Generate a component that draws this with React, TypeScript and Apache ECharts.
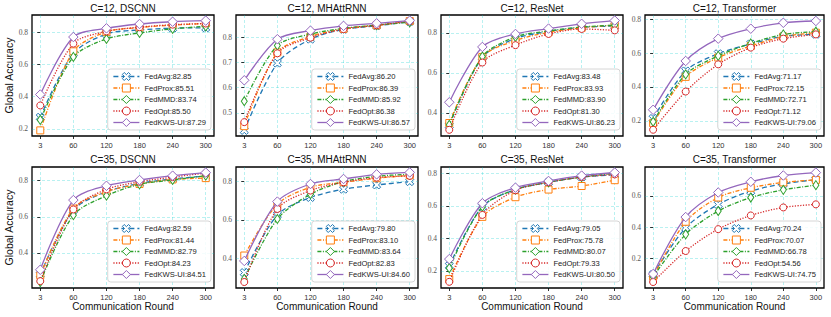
import React, { useEffect, useRef } from 'react';
import * as echarts from 'echarts';

const rounds = ['3', '60', '120', '180', '240', '300'];
const methods = ['FedAvg', 'FedProx', 'FedMMD', 'FedOpt', 'FedKWS-UI'];

// accuracy per method (order: FedAvg, FedProx, FedMMD, FedOpt, FedKWS-UI)
const c12DscnnAcc = [
  [0.272, 0.668, 0.79, 0.815, 0.826, 0.8285],
  [0.19, 0.682, 0.803, 0.83, 0.845, 0.8551],
  [0.255, 0.647, 0.759, 0.796, 0.822, 0.8374],
  [0.345, 0.73, 0.806, 0.832, 0.848, 0.855],
  [0.413, 0.771, 0.825, 0.852, 0.866, 0.8729],
];
const c12DscnnScores = [82.85, 85.51, 83.74, 85.5, 87.29];

const c12MhaAcc = [
  [0.43, 0.697, 0.792, 0.831, 0.845, 0.862],
  [0.447, 0.74, 0.803, 0.833, 0.847, 0.8639],
  [0.546, 0.767, 0.812, 0.835, 0.848, 0.8592],
  [0.463, 0.736, 0.798, 0.832, 0.847, 0.8638],
  [0.629, 0.792, 0.826, 0.845, 0.855, 0.8657],
];
const c12MhaScores = [86.2, 86.39, 85.92, 86.38, 86.57];

const c12ResnetAcc = [
  [0.337, 0.678, 0.772, 0.807, 0.828, 0.8348],
  [0.349, 0.68, 0.762, 0.803, 0.826, 0.8393],
  [0.34, 0.682, 0.78, 0.81, 0.83, 0.839],
  [0.315, 0.652, 0.739, 0.795, 0.82, 0.813],
  [0.453, 0.73, 0.795, 0.822, 0.846, 0.8623],
];
const c12ResnetScores = [83.48, 83.93, 83.9, 81.3, 86.23];

const c12TransAcc = [
  [0.214, 0.495, 0.597, 0.655, 0.7, 0.7117],
  [0.186, 0.46, 0.574, 0.643, 0.698, 0.7215],
  [0.194, 0.475, 0.584, 0.658, 0.711, 0.7271],
  [0.147, 0.373, 0.534, 0.633, 0.686, 0.7112],
  [0.265, 0.554, 0.686, 0.745, 0.78, 0.7906],
];
const c12TransScores = [71.17, 72.15, 72.71, 71.12, 79.06];

const c35DscnnAcc = [
  [0.28, 0.637, 0.739, 0.785, 0.81, 0.8259],
  [0.276, 0.646, 0.739, 0.782, 0.807, 0.8144],
  [0.239, 0.609, 0.717, 0.78, 0.804, 0.8279],
  [0.244, 0.641, 0.752, 0.794, 0.82, 0.8423],
  [0.307, 0.693, 0.772, 0.804, 0.828, 0.8451],
];
const c35DscnnScores = [82.59, 81.44, 82.79, 84.23, 84.51];

const c35MhaAcc = [
  [0.328, 0.626, 0.716, 0.759, 0.781, 0.798],
  [0.416, 0.681, 0.769, 0.795, 0.816, 0.831],
  [0.295, 0.605, 0.733, 0.798, 0.826, 0.8364],
  [0.279, 0.657, 0.752, 0.795, 0.819, 0.8283],
  [0.388, 0.695, 0.786, 0.812, 0.836, 0.846],
];
const c35MhaScores = [79.8, 83.1, 83.64, 82.83, 84.6];

const c35ResnetAcc = [
  [0.231, 0.595, 0.7, 0.745, 0.777, 0.7905],
  [0.149, 0.532, 0.653, 0.7, 0.722, 0.7578],
  [0.216, 0.595, 0.7, 0.745, 0.777, 0.8007],
  [0.132, 0.544, 0.696, 0.745, 0.777, 0.7933],
  [0.272, 0.616, 0.712, 0.753, 0.786, 0.805],
];
const c35ResnetScores = [79.05, 75.78, 80.07, 79.33, 80.5];

const c35TransAcc = [
  [0.1, 0.397, 0.545, 0.63, 0.676, 0.7024],
  [0.086, 0.435, 0.589, 0.651, 0.685, 0.7007],
  [0.085, 0.355, 0.503, 0.589, 0.638, 0.6678],
  [0.052, 0.249, 0.388, 0.475, 0.526, 0.5456],
  [0.103, 0.465, 0.621, 0.689, 0.729, 0.7475],
];
const c35TransScores = [70.24, 70.07, 66.78, 54.56, 74.75];

const panelTitles = [
  'C=12, DSCNN', 'C=12, MHAttRNN', 'C=12, ResNet', 'C=12, Transformer',
  'C=35, DSCNN', 'C=35, MHAttRNN', 'C=35, ResNet', 'C=35, Transformer',
];
const panelAcc = [c12DscnnAcc, c12MhaAcc, c12ResnetAcc, c12TransAcc, c35DscnnAcc, c35MhaAcc, c35ResnetAcc, c35TransAcc];
const panelScores = [c12DscnnScores, c12MhaScores, c12ResnetScores, c12TransScores, c35DscnnScores, c35MhaScores, c35ResnetScores, c35TransScores];
const yTickValues = [
  [0.2, 0.4, 0.6, 0.8], [0.5, 0.6, 0.7, 0.8], [0.4, 0.6, 0.8], [0.2, 0.4, 0.6, 0.8],
  [0.4, 0.6, 0.8], [0.4, 0.6, 0.8], [0.2, 0.4, 0.6, 0.8], [0.2, 0.4, 0.6],
];
const yRanges = [
  [0.155, 0.908], [0.408, 0.888], [0.284, 0.89], [0.11, 0.826],
  [0.206, 0.876], [0.248, 0.874], [0.094, 0.839], [0.014, 0.783],
];

const colors = ['#1f77b4', '#ff7f0e', '#2ca02c', '#d62728', '#9467bd'];
const xSymbol = 'path://M14.95 0.81L19.19 5.05L14.24 10L19.19 14.95L14.95 19.19L10 14.24L5.05 19.19L0.81 14.95L5.76 10L0.81 5.05L5.05 0.81L10 5.76Z';
const symbols = [xSymbol, 'rect', 'diamond', 'circle', 'diamond'];
const symbolSizes: any[] = [8, 7, [6, 9], 7, 9.5];
const dashes: any[] = [[5, 3], [4, 1.6, 1, 1.6], [4, 1.5, 1, 1.5], [1.2, 1.5], 'solid'];

const lefts = [32, 236, 441, 645];
const widths = [182, 182, 182, 179];
const tops = [15, 167];
const plotH = 121;
const W = 831;
const H = 317;

const SANS = 'Liberation Sans, Arial, sans-serif';
const SERIF = 'Liberation Serif, Times New Roman, serif';

function buildOption() {
  const grid: any[] = [];
  const xAxis: any[] = [];
  const yAxis: any[] = [];
  const series: any[] = [];
  const legend: any[] = [];
  const graphic: any[] = [];
  const gridLine = { show: true, lineStyle: { color: 'rgba(0,205,205,0.35)', type: [3, 2], width: 0.8 } };

  panelTitles.forEach((title, i) => {
    const col = i % 4;
    const row = Math.floor(i / 4);
    const left = lefts[col];
    const width = widths[col];
    const top = tops[row];
    grid.push({
      left, top, width, height: plotH, show: true,
      borderColor: '#000', borderWidth: 1.3, backgroundColor: 'transparent',
      containLabel: false, outerBoundsMode: 'none',
    });
    const xTicks = rounds.map((_, k) => k);
    xAxis.push({
      type: 'value', gridIndex: i, min: -0.25, max: 5.25,
      axisLine: { show: false },
      axisTick: { show: true, length: 3, lineStyle: { color: '#000', width: 0.8 }, customValues: xTicks },
      axisLabel: {
        customValues: xTicks, formatter: (v: number) => rounds[Math.round(v)],
        fontFamily: SANS, fontSize: 7.5, color: '#333', margin: 5,
      },
      splitLine: gridLine,
    });
    yAxis.push({
      type: 'value', gridIndex: i, min: yRanges[i][0], max: yRanges[i][1],
      axisLine: { show: false },
      axisTick: { show: true, length: 3, lineStyle: { color: '#000', width: 0.8 }, customValues: yTickValues[i] },
      axisLabel: {
        customValues: yTickValues[i], formatter: (v: number) => v.toFixed(1),
        fontFamily: SERIF, fontSize: 7.5, color: '#555', margin: 4,
      },
      splitLine: gridLine,
    });
    const legendItems: any[] = [];
    methods.forEach((m, k) => {
      const name = `${m}:${panelScores[i][k].toFixed(2)}`;
      const itemStyle = { color: '#fff', borderColor: colors[k], borderWidth: 1 };
      const lineStyle = { color: colors[k], width: 1.3, type: dashes[k] };
      legendItems.push({ name, itemStyle, lineStyle });
      series.push({
        type: 'line', name, xAxisIndex: i, yAxisIndex: i,
        data: panelAcc[i][k].map((v, j) => [j, v]),
        smooth: 0.3,
        symbol: symbols[k], symbolSize: symbolSizes[k], showSymbol: true,
        lineStyle, itemStyle,
        z: 2 + k,
        emphasis: { disabled: true },
      });
    });
    legend.push({
      data: legendItems, orient: 'vertical',
      right: W - (left + width - 3), bottom: H - (top + plotH - 6),
      itemWidth: 26, itemHeight: 10, itemGap: 2.5,
      padding: [3, 5, 3, 5],
      backgroundColor: 'rgba(255,255,255,0.85)', borderColor: '#ccc', borderWidth: 0.8, borderRadius: 3,
      textStyle: { fontFamily: SANS, fontSize: 7.6, color: '#222' },
      selectedMode: false,
    });
    graphic.push({
      type: 'text', x: left + width / 2, y: row === 0 ? 8.3 : 159.5,
      style: { text: title, textAlign: 'center', textVerticalAlign: 'middle', font: `10px ${SANS}`, fill: '#111' },
    });
    if (col === 0) {
      graphic.push({
        type: 'text', x: 9.3, y: top + plotH / 2, rotation: Math.PI / 2,
        style: { text: 'Global Accuracy', textAlign: 'center', textVerticalAlign: 'middle', font: `10.5px ${SANS}`, fill: '#111' },
      });
    }
    if (row === 1) {
      graphic.push({
        type: 'text', x: left + width / 2, y: 306.7,
        style: { text: 'Communication Round', textAlign: 'center', textVerticalAlign: 'middle', font: `10px ${SANS}`, fill: '#111' },
      });
    }
  });

  return { animation: false, backgroundColor: '#fff', grid, xAxis, yAxis, series, legend, graphic };
}

export default function App() {
  const ref = useRef<HTMLDivElement>(null);
  useEffect(() => {
    if (!ref.current) return;
    const chart = echarts.init(ref.current, undefined, { renderer: 'svg' });
    chart.setOption(buildOption() as any);
    return () => chart.dispose();
  }, []);
  return <div ref={ref} style={{ position: 'fixed', left: 0, top: 0, width: W, height: H }} />;
}
